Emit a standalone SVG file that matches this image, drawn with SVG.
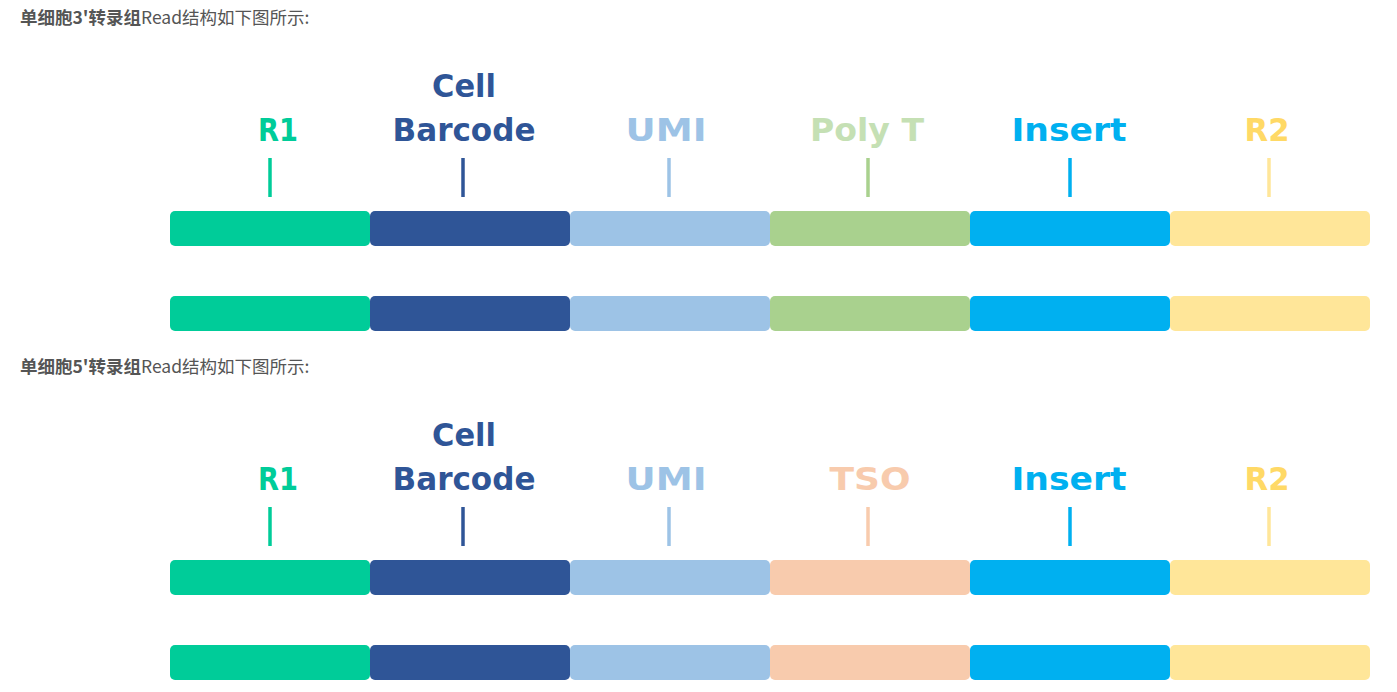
<svg xmlns="http://www.w3.org/2000/svg" width="1397" height="692" viewBox="0 0 1397 692">
<style>
.title{font-family:"Noto Sans CJK SC","Liberation Sans",sans-serif;font-size:17.5px;fill:#555555}
.b{font-weight:bold}
.lbl{font-family:"Comic Sans MS","DejaVu Sans",sans-serif;font-weight:bold;font-size:32px;text-anchor:middle}
.tick{stroke-width:3.5;stroke-linecap:butt}
</style>
<rect width="1397" height="692" fill="#ffffff"/>
<text class="title" x="20" y="24"><tspan class="b">单细胞3'转录组</tspan>Read结构如下图所示:</text>
<text class="title" x="20" y="373"><tspan class="b">单细胞5'转录组</tspan>Read结构如下图所示:</text>

<g id="diagram3">
  <g id="r1-3">
    <text class="lbl" x="278" y="141" fill="#00CC99" textLength="40" lengthAdjust="spacingAndGlyphs">R1</text>
    <rect x="170" y="211" width="200" height="35" rx="5" fill="#00CC99"/>
    <rect x="170" y="296" width="200" height="35" rx="5" fill="#00CC99"/>
  </g>
  <g id="barcode-3">
    <text class="lbl" x="464" y="97" fill="#2F5597" textLength="64" lengthAdjust="spacingAndGlyphs">Cell</text>
    <text class="lbl" x="464" y="141" fill="#2F5597" textLength="143" lengthAdjust="spacingAndGlyphs">Barcode</text>
    <rect x="370" y="211" width="200" height="35" rx="5" fill="#2F5597"/>
    <rect x="370" y="296" width="200" height="35" rx="5" fill="#2F5597"/>
  </g>
  <g id="umi-3">
    <text class="lbl" x="666" y="141" fill="#9DC3E6" textLength="81" lengthAdjust="spacingAndGlyphs">UMI</text>
    <rect x="570" y="211" width="200" height="35" rx="5" fill="#9DC3E6"/>
    <rect x="570" y="296" width="200" height="35" rx="5" fill="#9DC3E6"/>
  </g>
  <g id="polyt-3">
    <text class="lbl" x="867" y="141" fill="#C5E0B4" textLength="114" lengthAdjust="spacingAndGlyphs">Poly T</text>
    <rect x="770" y="211" width="200" height="35" rx="5" fill="#A9D18E"/>
    <rect x="770" y="296" width="200" height="35" rx="5" fill="#A9D18E"/>
  </g>
  <g id="insert-3">
    <text class="lbl" x="1069" y="141" fill="#00B0F0" textLength="115" lengthAdjust="spacingAndGlyphs">Insert</text>
    <rect x="970" y="211" width="200" height="35" rx="5" fill="#00B0F0"/>
    <rect x="970" y="296" width="200" height="35" rx="5" fill="#00B0F0"/>
  </g>
  <g id="r2-3">
    <text class="lbl" x="1267" y="141" fill="#FFD966" textLength="45" lengthAdjust="spacingAndGlyphs">R2</text>
    <rect x="1170" y="211" width="200" height="35" rx="5" fill="#FFE699"/>
    <rect x="1170" y="296" width="200" height="35" rx="5" fill="#FFE699"/>
  </g>
</g>

<g id="diagram5">
  <g id="r1-5">
    <text class="lbl" x="278" y="490" fill="#00CC99" textLength="40" lengthAdjust="spacingAndGlyphs">R1</text>
    <rect x="170" y="560" width="200" height="35" rx="5" fill="#00CC99"/>
    <rect x="170" y="645" width="200" height="35" rx="5" fill="#00CC99"/>
  </g>
  <g id="barcode-5">
    <text class="lbl" x="464" y="446" fill="#2F5597" textLength="64" lengthAdjust="spacingAndGlyphs">Cell</text>
    <text class="lbl" x="464" y="490" fill="#2F5597" textLength="143" lengthAdjust="spacingAndGlyphs">Barcode</text>
    <rect x="370" y="560" width="200" height="35" rx="5" fill="#2F5597"/>
    <rect x="370" y="645" width="200" height="35" rx="5" fill="#2F5597"/>
  </g>
  <g id="umi-5">
    <text class="lbl" x="666" y="490" fill="#9DC3E6" textLength="81" lengthAdjust="spacingAndGlyphs">UMI</text>
    <rect x="570" y="560" width="200" height="35" rx="5" fill="#9DC3E6"/>
    <rect x="570" y="645" width="200" height="35" rx="5" fill="#9DC3E6"/>
  </g>
  <g id="tso-5">
    <text class="lbl" x="870" y="490" fill="#F8CBAD" textLength="81" lengthAdjust="spacingAndGlyphs">TSO</text>
    <rect x="770" y="560" width="200" height="35" rx="5" fill="#F8CBAD"/>
    <rect x="770" y="645" width="200" height="35" rx="5" fill="#F8CBAD"/>
  </g>
  <g id="insert-5">
    <text class="lbl" x="1069" y="490" fill="#00B0F0" textLength="115" lengthAdjust="spacingAndGlyphs">Insert</text>
    <rect x="970" y="560" width="200" height="35" rx="5" fill="#00B0F0"/>
    <rect x="970" y="645" width="200" height="35" rx="5" fill="#00B0F0"/>
  </g>
  <g id="r2-5">
    <text class="lbl" x="1267" y="490" fill="#FFD966" textLength="45" lengthAdjust="spacingAndGlyphs">R2</text>
    <rect x="1170" y="560" width="200" height="35" rx="5" fill="#FFE699"/>
    <rect x="1170" y="645" width="200" height="35" rx="5" fill="#FFE699"/>
  </g>
</g>

<g id="connectors" class="tick">
  <line x1="270" y1="158" x2="270" y2="197" stroke="#00CC99"/>
  <line x1="463" y1="158" x2="463" y2="197" stroke="#2F5597"/>
  <line x1="669" y1="158" x2="669" y2="197" stroke="#9DC3E6"/>
  <line x1="868" y1="158" x2="868" y2="197" stroke="#A9D18E"/>
  <line x1="1070" y1="158" x2="1070" y2="197" stroke="#00B0F0"/>
  <line x1="1269" y1="158" x2="1269" y2="197" stroke="#FFE699"/>
  <line x1="270" y1="507" x2="270" y2="546" stroke="#00CC99"/>
  <line x1="463" y1="507" x2="463" y2="546" stroke="#2F5597"/>
  <line x1="669" y1="507" x2="669" y2="546" stroke="#9DC3E6"/>
  <line x1="868" y1="507" x2="868" y2="546" stroke="#F8CBAD"/>
  <line x1="1070" y1="507" x2="1070" y2="546" stroke="#00B0F0"/>
  <line x1="1269" y1="507" x2="1269" y2="546" stroke="#FFE699"/>
</g>
</svg>
